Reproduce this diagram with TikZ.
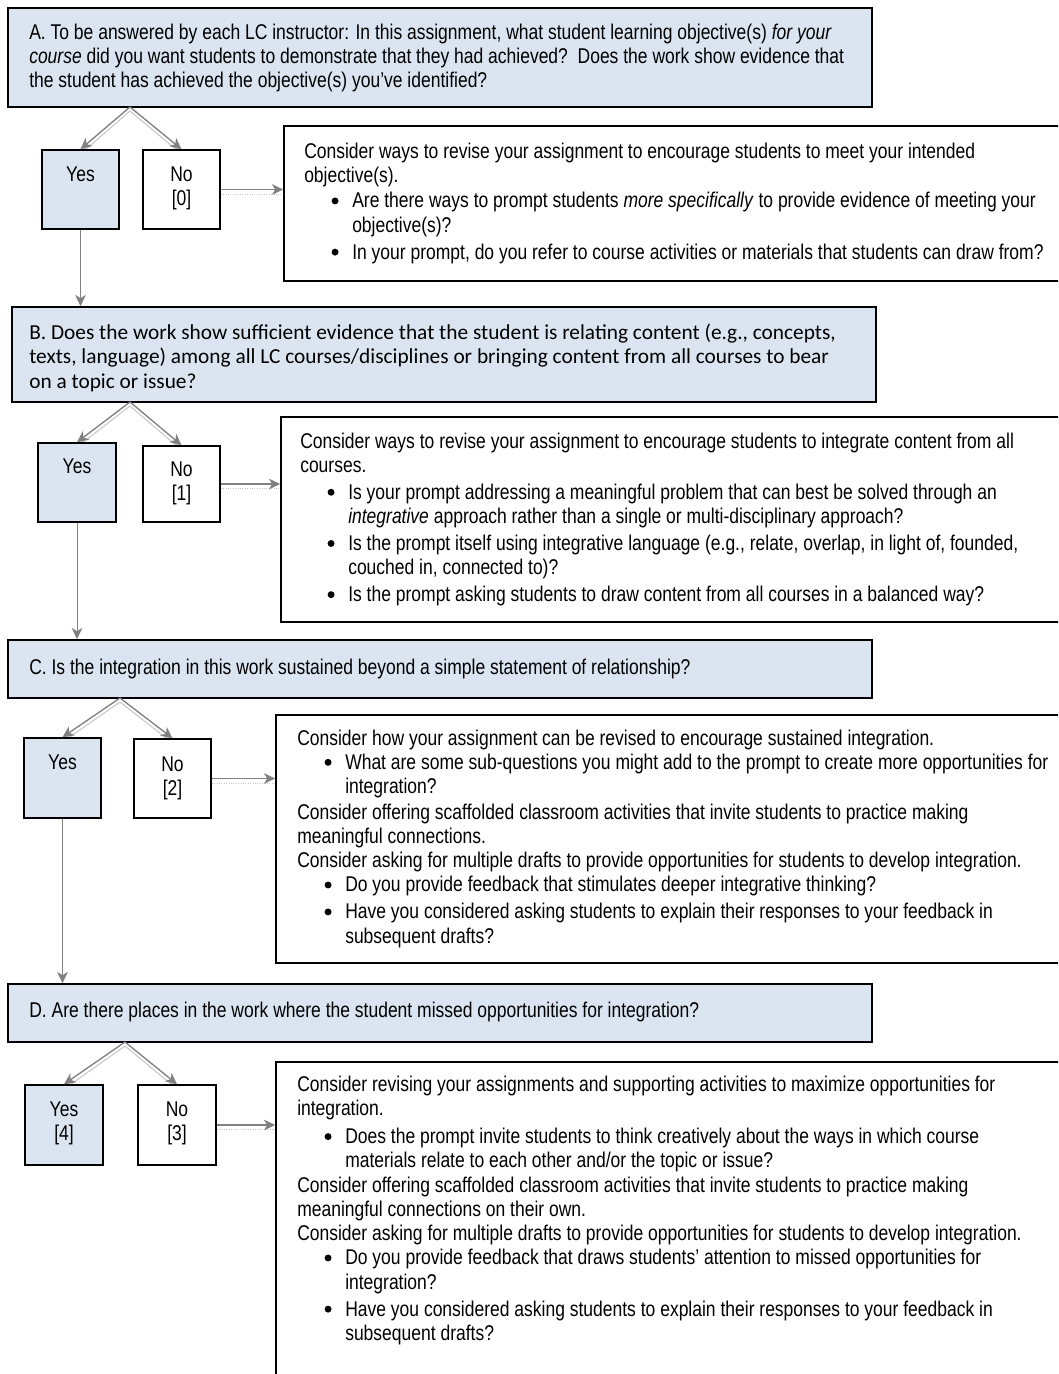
\documentclass[tikz,border=0pt]{standalone}
\usepackage{fontspec}
\setmainfont{Liberation Sans}[FakeStretch=0.82]
\newfontfamily\calib{Carlito}
\usetikzlibrary{arrows.meta,fit}
\definecolor{qfill}{RGB}{219,229,241}
\definecolor{arrowgray}{RGB}{128,128,128}
\definecolor{shadegray}{RGB}{200,200,200}
\newcommand{\txtblock}[1]{\begin{tabular}[t]{@{}l@{}}#1\end{tabular}}
\newcommand{\txtcenter}[1]{\begin{tabular}[t]{@{}c@{}}#1\end{tabular}}
\newcommand{\bdot}{\tikz[baseline=-5.2pt]\fill[black] (0,0) circle (2.6pt);}
\newcommand{\bu}{\hspace*{20.5pt}\makebox[15.5pt][l]{\bdot}}
\newcommand{\ci}{\hspace*{36pt}}
\tikzset{
  qbox/.style={draw=black, line width=1.2pt, fill=qfill, inner sep=0pt},
  nbox/.style={draw=black, line width=1.2pt, fill=white, inner sep=0pt},
  txt/.style={inner sep=0pt, anchor=base west, font=\fontsize{16}{18.2}\selectfont},
  ctxt/.style={inner sep=0pt, anchor=base west, font=\calib\fontsize{16}{18.4}\selectfont},
  lbl/.style={inner sep=0pt, anchor=base, font=\fontsize{16}{18.6}\selectfont},
  tip/.style={-{Stealth[length=8.5pt,width=8pt,inset=2.5pt]}},
  conn/.style={draw=arrowgray, line width=1pt, tip},
  shade/.style={draw=shadegray, line width=0.8pt, tip, transform canvas={yshift=-3pt}},
  shadedot/.style={draw=shadegray, line width=0.8pt, densely dotted, transform canvas={yshift=-3.5pt}},
}
\begin{document}
\begin{tikzpicture}[x=0.75pt, y=-0.75pt]
\useasboundingbox (0,0) rectangle (1058,1374);
\clip (0,0) rectangle (1058,1374);
% apex coordinates
\coordinate (apa) at (130,107);
\coordinate (apb) at (130,402);
\coordinate (apc) at (120,698);
\coordinate (apd) at (125,1042);
% ================= question and advice boxes
\node[qbox, fit={(8,8)(872,107)}] (qa) {};
\node[nbox, fit={(284,126)(1070,281)}] (ca) {};
\node[qbox, fit={(12,307)(876,402)}] (qb) {};
\node[nbox, fit={(281,417)(1070,622)}] (cb) {};
\node[qbox, fit={(8,640)(872,698)}] (qc) {};
\node[nbox, fit={(276,715)(1070,963)}] (cc) {};
\node[qbox, fit={(8,984)(872,1042)}] (qd) {};
\node[nbox, fit={(276,1062)(1070,1400)}] (cd) {};
% top-centre points of the yes / no boxes (for the shadow lines)
\coordinate (yaN) at (80.5,150);  \coordinate (naN) at (181.5,150);
\coordinate (ybN) at (77,443);    \coordinate (nbN) at (181.5,446);
\coordinate (ycN) at (62.5,738);  \coordinate (ncN) at (172.5,739);
\coordinate (ydN) at (64,1085);   \coordinate (ndN) at (177,1085);
% shadows of the diagonal arrows
\draw[shade] (apa) -- (yaN);  \draw[shade] (apa) -- (naN);
\draw[shade] (apb) -- (ybN);  \draw[shade] (apb) -- (nbN);
\draw[shade] (apc) -- (ycN);  \draw[shade] (apc) -- (ncN);
\draw[shade] (apd) -- (ydN);  \draw[shade] (apd) -- (ndN);
% yes / no boxes
\node[qbox, fit={(42,150)(119,229)}] (ya) {};
\node[nbox, fit={(143,150)(220,229)}] (na) {};
\node[qbox, fit={(38,443)(116,522)}] (yb) {};
\node[nbox, fit={(143,446)(220,522)}] (nb) {};
\node[qbox, fit={(24,738)(101,818)}] (yc) {};
\node[nbox, fit={(134,739)(211,818)}] (nc) {};
\node[qbox, fit={(25,1085)(103,1165)}] (yd) {};
\node[nbox, fit={(138,1085)(216,1165)}] (nd) {};
% diagonal arrows
\draw[conn] (apa) -- (ya.north);  \draw[conn] (apa) -- (na.north);
\draw[conn] (apb) -- (yb.north);  \draw[conn] (apb) -- (nb.north);
\draw[conn] (apc) -- (yc.north);  \draw[conn] (apc) -- (nc.north);
\draw[conn] (apd) -- (yd.north);  \draw[conn] (apd) -- (nd.north);
% horizontal arrows
\draw[shadedot] (na.east) -- (na.east -| ca.west);
\draw[shadedot] (nb.east) -- (nb.east -| cb.west);
\draw[shadedot] (nc.east) -- (nc.east -| cc.west);
\draw[shadedot] (nd.east) -- (nd.east -| cd.west);
\draw[conn] (na.east) -- (na.east -| ca.west);
\draw[conn] (nb.east) -- (nb.east -| cb.west);
\draw[conn] (nc.east) -- (nc.east -| cc.west);
\draw[conn] (nd.east) -- (nd.east -| cd.west);
% vertical yes arrows
\draw[conn, line width=0.75pt] (ya.south) -- (ya.south |- qb.north);
\draw[conn, line width=0.75pt] (yb.south) -- (yb.south |- qc.north);
\draw[conn, line width=0.75pt] (yc.south) -- (yc.south |- qd.north);
% labels
\node[lbl] (yal) at (80.5,181) {Yes};
\node[lbl] (nal) at (181.5,181) {\txtcenter{No\\{[0]}}};
\node[lbl] (ybl) at (77,473) {Yes};
\node[lbl] (nbl) at (181.5,476) {\txtcenter{No\\{[1]}}};
\node[lbl] (ycl) at (62.5,769) {Yes};
\node[lbl] (ncl) at (172.5,771) {\txtcenter{No\\{[2]}}};
\node[lbl] (ydl) at (64,1116) {\txtcenter{Yes\\{[4]}}};
\node[lbl] (ndl) at (177,1116) {\txtcenter{No\\{[3]}}};
% question texts
\node[txt] (qat) at (29,39) {\txtblock{%
A. To be answered by each LC instructor: In this assignment, what student learning objective(s) \textit{for your}\\
\textit{course} did you want students to demonstrate that they had achieved?\ \ Does the work show evidence that\\
the student has achieved the objective(s) you’ve identified?}};
\node[ctxt] (qbt) at (29,339) {\txtblock{%
B. Does the work show sufficient evidence that the student is relating content (e.g., concepts,\\
texts, language) among all LC courses/disciplines or bringing content from all courses to bear\\
on a topic or issue?}};
\node[txt] (qct) at (29,674) {C. Is the integration in this work sustained beyond a simple statement of relationship?};
\node[txt] (qdt) at (29,1017) {D. Are there places in the work where the student missed opportunities for integration?};
% advice texts
\node[txt] (cat) at (304,158) {\txtblock{%
Consider ways to revise your assignment to encourage students to meet your intended\\
objective(s).\\[1pt]
\bu Are there ways to prompt students \textit{more specifically} to provide evidence of meeting your\\
\ci objective(s)?\\[2pt]
\bu In your prompt, do you refer to course activities or materials that students can draw from?}};
\node[txt] (cbt) at (300,448) {\txtblock{%
Consider ways to revise your assignment to encourage students to integrate content from all\\
courses.\\[2pt]
\bu Is your prompt addressing a meaningful problem that can best be solved through an\\
\ci \textit{integrative} approach rather than a single or multi-disciplinary approach?\\[2pt]
\bu Is the prompt itself using integrative language (e.g., relate, overlap, in light of, founded,\\
\ci couched in, connected to)?\\[2pt]
\bu Is the prompt asking students to draw content from all courses in a balanced way?}};
\node[txt] (cct) at (297,745) {\txtblock{%
Consider how your assignment can be revised to encourage sustained integration.\\
\bu What are some sub-questions you might add to the prompt to create more opportunities for\\
\ci integration?\\[1pt]
Consider offering scaffolded classroom activities that invite students to practice making\\
meaningful connections.\\
Consider asking for multiple drafts to provide opportunities for students to develop integration.\\
\bu Do you provide feedback that stimulates deeper integrative thinking?\\[2pt]
\bu Have you considered asking students to explain their responses to your feedback in\\
\ci subsequent drafts?}};
\node[txt] (cdt) at (297,1091) {\txtblock{%
Consider revising your assignments and supporting activities to maximize opportunities for\\
integration.\\[3pt]
\bu Does the prompt invite students to think creatively about the ways in which course\\
\ci materials relate to each other and/or the topic or issue?\\
Consider offering scaffolded classroom activities that invite students to practice making\\
meaningful connections on their own.\\
Consider asking for multiple drafts to provide opportunities for students to develop integration.\\
\bu Do you provide feedback that draws students’ attention to missed opportunities for\\
\ci integration?\\[2pt]
\bu Have you considered asking students to explain their responses to your feedback in\\
\ci subsequent drafts?}};
\end{tikzpicture}
\end{document}
